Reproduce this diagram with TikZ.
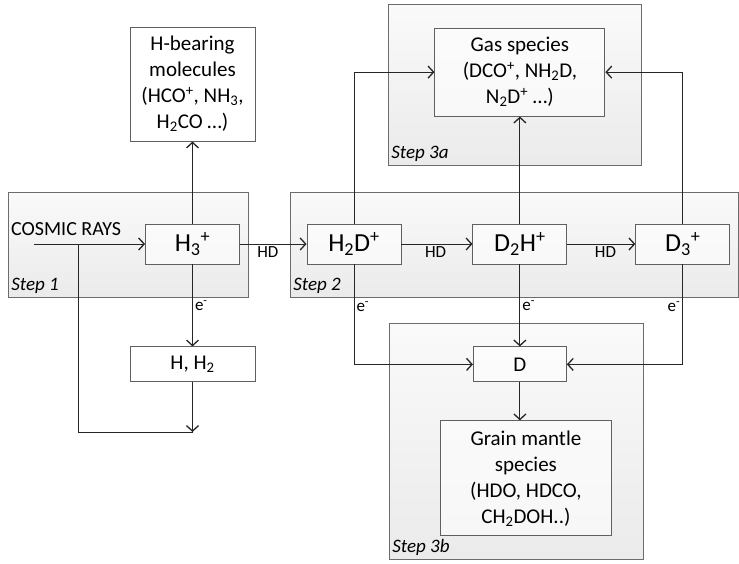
\documentclass[tikz,border=0pt]{standalone}
\usepackage{fontspec}
\setmainfont{Carlito}
\usetikzlibrary{positioning,arrows.meta}

\tikzset{
  stepbox/.style 2 args={draw=gray!85!black, line width=0.9pt, top color=gray!4, bottom color=gray!16,
    minimum width=#1, minimum height=#2, inner sep=0pt},
  species/.style={draw=gray!75!black, line width=0.9pt, fill=white, fill opacity=0.6, text opacity=1,
    align=center, font=\fontsize{21}{26}\selectfont, inner sep=2pt},
  ion/.style={species, minimum width=94pt, minimum height=40pt, font=\fontsize{26}{28}\selectfont},
  steplabel/.style={anchor=south west, font=\fontsize{19}{22}\selectfont\itshape, inner sep=3.5pt},
  small/.style={font=\fontsize{17}{19}\selectfont, inner sep=2pt},
  link/.style={draw=black!85, line width=1pt},
  flow/.style={link, -{Straight Barb[length=5.5pt,width=12pt,line width=1.3pt]}},
  node distance=82pt
}

\begin{document}
\begin{tikzpicture}[x=1pt, y=-1pt]
  \useasboundingbox (0,0) rectangle (739,563);

  % Step boxes
  \node[stepbox={240pt}{105pt}] (step1) at (128,244.5) {};
  \node[stepbox={448pt}{105pt}] (step2) at (514,244.5) {};
  \node[stepbox={253pt}{161pt}] (step3a) at (514.5,84.5) {};
  \node[stepbox={254pt}{236pt}] (step3b) at (516,441) {};
  \node[steplabel] at (step1.south west) {Step 1};
  \node[steplabel] at (step2.south west) {Step 2};
  \node[steplabel] at (step3a.south west) {Step 3a};
  \node[steplabel] at (step3b.south west) {Step 3b};

  % Define nodes
  \node[ion] (h3) at (192.5,244) {H\textsubscript{3}\textsuperscript{+}};
  \node[species, minimum width=125pt, minimum height=114pt, above=of h3] (hbear)
    {H-bearing\\molecules\\(HCO\textsuperscript{+}, NH\textsubscript{3},\\H\textsubscript{2}CO …)};
  \node[species, minimum width=125pt, minimum height=35pt, below=of h3] (hh2) {H, H\textsubscript{2}};
  \node[ion] (h2d) at (354,244) {H\textsubscript{2}D\textsuperscript{+}};
  \node[ion, right=71pt of h2d] (d2h) {D\textsubscript{2}H\textsuperscript{+}};
  \node[ion, right=68pt of d2h] (d3) {D\textsubscript{3}\textsuperscript{+}};
  \node[species, minimum width=170pt, minimum height=88pt, above=107pt of d2h] (gas)
    {Gas species\\(DCO\textsuperscript{+}, NH\textsubscript{2}D,\\N\textsubscript{2}D\textsuperscript{+} …)};
  \node[species, minimum width=93pt, minimum height=35pt, below=of d2h] (d) {D};
  \node[species, minimum width=171pt, minimum height=115pt, below=38pt of d, xshift=6pt] (grain)
    {Grain mantle\\species\\(HDO, HDCO,\\CH\textsubscript{2}DOH..)};

  \node[anchor=west, inner sep=0pt, font=\fontsize{20}{22}\selectfont] (cosmic) at (11,229) {COSMIC RAYS};
  \coordinate (crstart) at (34,244);
  \coordinate (split) at (78,244);
  \coordinate (join) at (78,432);

  % Connect the nodes
  \draw[flow] (crstart) -- (h3.west);
  \draw[link] (split) |- (hh2.south |- join);
  \draw[flow] (hh2.south) -- (hh2.south |- join);
  \draw[flow] (h3.north) -- (hbear.south);
  \draw[flow] (h3.south) -- node[small, right, pos=0.5] {e\textsuperscript{-}} (hh2.north);
  \draw[flow] (h3.east) -- node[small, below, pos=0.42] {HD} (h2d.west);
  \draw[flow] (h2d.east) -- node[small, below, pos=0.48] {HD} (d2h.west);
  \draw[flow] (d2h.east) -- node[small, below, pos=0.56] {HD} (d3.west);
  \draw[flow] (h2d.north) |- (gas.west);
  \draw[flow] (d2h.north) -- (gas.south);
  \draw[flow] (d3.north) |- (gas.east);
  \draw[flow] (h2d.south) |- node[small, right, pos=0.21] {e\textsuperscript{-}} (d.west);
  \draw[flow] (d2h.south) -- node[small, right, pos=0.5] {e\textsuperscript{-}} (d.north);
  \draw[flow] (d3.south) |- node[small, left, pos=0.21] {e\textsuperscript{-}} (d.east);
  \draw[flow] (d.south) -- (grain.north -| d.south);
\end{tikzpicture}
\end{document}
